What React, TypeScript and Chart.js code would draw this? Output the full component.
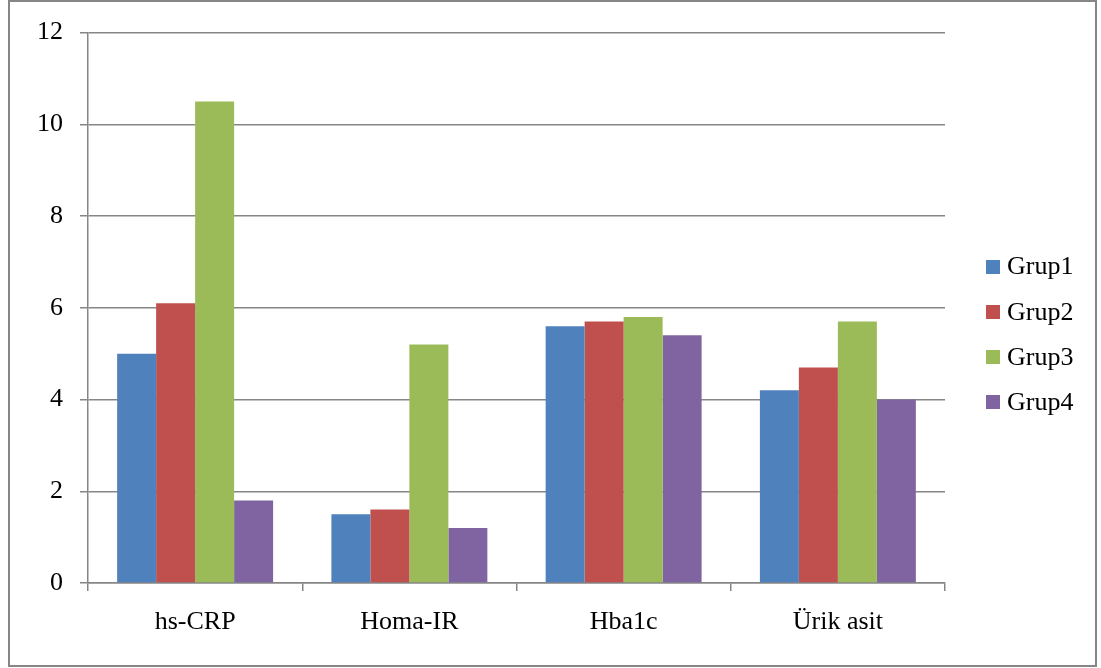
import { useEffect, useRef } from "react";
import { Chart, registerables } from "chart.js";

Chart.register(...registerables);

const categories = ["hs-CRP", "Homa-IR", "Hba1c", "Ürik asit"];
const seriesNames = ["Grup1", "Grup2", "Grup3", "Grup4"];
const grup1 = [5.0, 1.5, 5.6, 4.2];
const grup2 = [6.1, 1.6, 5.7, 4.7];
const grup3 = [10.5, 5.2, 5.8, 5.7];
const grup4 = [1.8, 1.2, 5.4, 4.0];
const yTicks = [0, 2, 4, 6, 8, 10, 12];

const seriesColors = ["#4F81BD", "#C0504D", "#9BBB59", "#8064A2"];
const lineGray = "#868686";
const serif = '"Liberation Serif", "Times New Roman", serif';
const fontSize = 26;

// Outer frame around the whole chart
const framePlugin = {
  id: "frame",
  beforeDraw(chart: any) {
    const { ctx } = chart;
    ctx.save();
    ctx.fillStyle = "#ffffff";
    ctx.fillRect(0, 0, chart.width, chart.height);
    ctx.strokeStyle = lineGray;
    ctx.lineWidth = 2;
    ctx.strokeRect(9, 1, 1087, 665);
    ctx.restore();
  },
};

// Legend on the right: square swatch + series name, one per row
const sideLegend = {
  id: "sideLegend",
  afterDraw(chart: any) {
    const { ctx, chartArea } = chart;
    const datasets = chart.data.datasets;
    const rowGap = 45.3;
    const box = 14;
    const x = chartArea.right + 41;
    const centerY = 334.5;
    const startY = centerY - ((datasets.length - 1) * rowGap) / 2;
    ctx.save();
    ctx.font = `${fontSize}px ${serif}`;
    ctx.textBaseline = "middle";
    ctx.textAlign = "left";
    datasets.forEach((ds: any, i: number) => {
      const y = startY + i * rowGap;
      ctx.fillStyle = ds.backgroundColor;
      ctx.fillRect(x, Math.round(y - box / 2), box, box);
      ctx.fillStyle = "#000000";
      ctx.fillText(ds.label, x + 21, y + 1);
    });
    ctx.restore();
  },
};

export default function App() {
  const canvasRef = useRef<HTMLCanvasElement | null>(null);

  useEffect(() => {
    if (!canvasRef.current) return;
    const values = [grup1, grup2, grup3, grup4];
    const chart = new Chart(canvasRef.current, {
      type: "bar",
      data: {
        labels: categories,
        datasets: seriesNames.map((name, i) => ({
          label: name,
          data: values[i],
          backgroundColor: seriesColors[i],
          borderWidth: 0,
          categoryPercentage: 0.728,
          barPercentage: 1.0,
        })),
      },
      options: {
        animation: false,
        responsive: false,
        maintainAspectRatio: false,
        layout: { padding: { left: 0, top: 30, right: 156, bottom: 0 } },
        plugins: {
          legend: { display: false },
          tooltip: { enabled: false },
          title: { display: false },
        },
        scales: {
          x: {
            offset: true,
            afterFit(scale: any) {
              scale.height = 85;
            },
            grid: {
              offset: true,
              drawOnChartArea: false,
              drawTicks: true,
              tickLength: 8,
              color: lineGray,
              lineWidth: 1.5,
            },
            border: { display: true, color: lineGray, width: 1.5 },
            ticks: {
              color: "#000000",
              font: { family: serif, size: fontSize },
              padding: 16,
              maxRotation: 0,
            },
          },
          y: {
            min: yTicks[0],
            max: yTicks[yTicks.length - 1],
            afterFit(scale: any) {
              scale.width = 88;
            },
            grid: {
              color: lineGray,
              lineWidth: 1.5,
              drawTicks: true,
              tickLength: 8,
            },
            border: { display: true, color: lineGray, width: 1.5 },
            ticks: {
              stepSize: yTicks[1] - yTicks[0],
              color: "#000000",
              font: { family: serif, size: fontSize },
              padding: 17,
            },
          },
        },
      },
      plugins: [framePlugin, sideLegend],
    });
    return () => chart.destroy();
  }, []);

  return (
    <div style={{ position: "fixed", left: 0, top: 0, width: 1101, height: 668 }}>
      <canvas ref={canvasRef} width={1101} height={668} style={{ display: "block" }} />
    </div>
  );
}
